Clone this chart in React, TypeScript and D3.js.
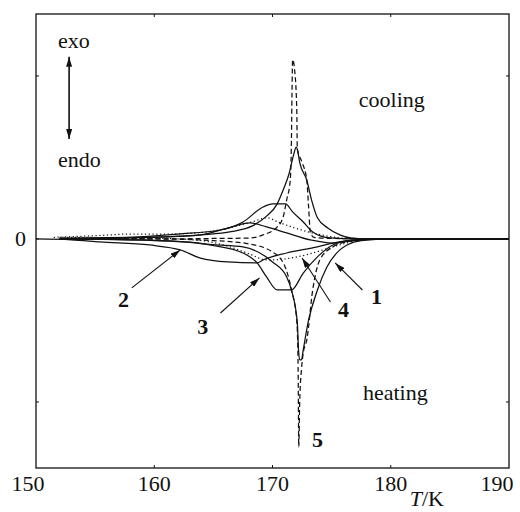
import React from 'react';
import * as d3 from 'd3';

const W = 520;
const H = 512;
const margin = { left: 36, right: 11, top: 14, bottom: 44 };
const font = '"Liberation Serif", "DejaVu Serif", serif';

// axis values
const xTicks = [150, 160, 170, 180, 190];
const yTicks = [-1, 0, 1];
const yTickLabels = ['', '0', ''];

// cooling runs (exo, above zero), [T/K, signal]
const cool1 = [[151.5, 0.01], [155, 0.02], [158, 0.03], [161, 0.03], [164, 0.04], [166.5, 0.07], [168.5, 0.11], [169.5, 0.13], [170.6, 0.1], [171.8, 0.07], [173.2, 0.04], [174.5, 0.02], [176, 0.005], [180, 0], [190, 0]];
const cool2 = [[152, 0], [158, 0.01], [162, 0.03], [165.6, 0.055], [167.5, 0.104], [169.2, 0.196], [170.0, 0.215], [171.1, 0.215], [171.7, 0.166], [172.6, 0.104], [173.4, 0.043], [174.9, 0.006], [177, 0], [190, 0]];
const cool3 = [[152, 0.005], [158, 0.01], [161.5, 0.015], [163.9, 0.025], [166.2, 0.067], [168.1, 0.098], [169.5, 0.074], [171.2, 0.037], [173.2, -0.006], [175.1, -0.025], [176.8, -0.01], [178.5, 0], [190, 0]];
const cool4 = [[152, 0], [160, 0.01], [164, 0.025], [166.5, 0.045], [168.3, 0.08], [169.5, 0.14], [170.4, 0.215], [170.9, 0.3], [171.4, 0.4], [171.8, 0.52], [172.0, 0.564], [172.1, 0.55], [172.3, 0.47], [172.9, 0.36], [173.3, 0.24], [173.8, 0.13], [174.7, 0.066], [175.7, 0.025], [176.6, 0.006], [178, 0], [190, 0]];
const cool5 = [[152, 0], [160, 0], [165, 0.003], [168.1, 0.006], [169.2, 0.025], [170.4, 0.074], [170.9, 0.135], [171.2, 0.24], [171.5, 0.36], [171.6, 0.6], [171.65, 0.9], [171.7, 1.1], [171.85, 1.05], [172.05, 0.8], [172.1, 0.55], [172.5, 0.47], [172.9, 0.36], [173.05, 0.2], [173.2, 0.04], [173.5, 0.01], [175, 0.003], [190, 0]];

// heating runs (endo, below zero)
const heat1 = [[152, 0], [160, -0.01], [163, -0.02], [165, -0.035], [167.5, -0.049], [170.0, -0.141], [171.2, -0.233], [171.6, -0.313], [172.1, -0.515], [172.2, -0.681], [172.3, -0.742], [172.45, -0.742], [172.6, -0.681], [173.0, -0.515], [173.8, -0.313], [174.6, -0.172], [175.7, -0.067], [176.3, -0.037], [177.5, -0.01], [180, 0], [190, 0]];
const heat2 = [[150, 0], [153, -0.005], [155.4, -0.018], [159.6, -0.037], [162.2, -0.067], [163.9, -0.117], [166.2, -0.141], [168.7, -0.147], [169.2, -0.129], [171.2, -0.086], [173.8, -0.049], [175.1, -0.025], [177, -0.005], [180, 0], [190, 0]];
const heat3 = [[152, 0], [158, -0.005], [162, -0.015], [164.7, -0.037], [167.5, -0.086], [168.7, -0.147], [169.5, -0.233], [170.4, -0.313], [171.6, -0.313], [172.6, -0.209], [173.8, -0.11], [175.1, -0.037], [176.5, -0.01], [179, 0], [190, 0]];
const heat4 = [[152, 0.01], [160, 0.005], [164, -0.01], [166, -0.04], [168, -0.09], [169.5, -0.129], [172.1, -0.11], [173.4, -0.086], [175.1, -0.049], [176.5, -0.02], [178, 0], [190, 0]];
const heat5 = [[152, 0], [160, 0], [165, -0.01], [168, -0.03], [170, -0.08], [171, -0.16], [171.6, -0.31], [172.05, -0.5], [172.15, -0.7], [172.18, -0.9], [172.22, -1.276], [172.3, -1.0], [172.45, -0.8], [172.6, -0.7], [172.9, -0.62], [173.4, -0.313], [174.0, -0.129], [175.1, -0.049], [176.5, -0.015], [179, 0], [190, 0]];

// curve numbers with label spot and arrow (from, to)
const labels = ['1', '2', '3', '4', '5'];
const labelAt = [[178.8, -0.356], [157.4, -0.374], [164.1, -0.54], [176.0, -0.436], [173.8, -1.233]];
const arrowFrom = [[177.6, -0.313], [158.1, -0.3], [165.6, -0.454], [174.9, -0.387], null];
const arrowTo = [[175.3, -0.147], [162.2, -0.067], [168.9, -0.239], [172.5, -0.117], null];

const series = [
  { data: cool1, dash: '1.2 2.6' },
  { data: cool2, dash: null },
  { data: cool3, dash: null },
  { data: cool4, dash: null },
  { data: cool5, dash: '5 3' },
  { data: heat1, dash: null },
  { data: heat2, dash: null },
  { data: heat3, dash: null },
  { data: heat4, dash: '1.2 2.6' },
  { data: heat5, dash: '5 3' },
];

export default function App() {
  const x = d3.scaleLinear().domain([150, 190]).range([margin.left, W - margin.right]);
  const y = d3.scaleLinear().domain([-1.405, 1.38]).range([H - margin.bottom, margin.top]);
  const line = d3
    .line<number[]>()
    .x((d) => x(d[0]))
    .y((d) => y(d[1]))
    .curve(d3.curveMonotoneX);

  const x0 = x(150);
  const x1 = x(190);
  const y0 = y.range()[0];
  const y1 = y.range()[1];
  const textStyle = { fontFamily: font, fontSize: 22, fill: '#111' };

  return (
    <svg width={W} height={H} style={{ position: 'absolute', left: 0, top: 0, background: '#fff' }}>
      <defs>
        <marker id="head" viewBox="0 0 10 6" refX="10" refY="3" markerWidth="10" markerHeight="6" markerUnits="userSpaceOnUse" orient="auto-start-reverse">
          <path d="M0,0 L10,3 L0,6 Z" fill="#111" />
        </marker>
      </defs>

      {/* curves */}
      <g fill="none" stroke="#111" strokeWidth={1.25} strokeLinejoin="round">
        {series.map((s, i) => (
          <path key={i} d={line(s.data) || ''} strokeDasharray={s.dash || undefined} />
        ))}
      </g>

      {/* frame and ticks */}
      <rect x={x0} y={y1} width={x1 - x0} height={y0 - y1} fill="none" stroke="#111" strokeWidth={1.3} />
      {xTicks.slice(1, -1).map((t) => (
        <g key={t} stroke="#111" strokeWidth={1}>
          <line x1={x(t)} x2={x(t)} y1={y0} y2={y0 - 3} />
          <line x1={x(t)} x2={x(t)} y1={y1} y2={y1 + 3} />
        </g>
      ))}
      {yTicks.map((t) => (
        <g key={t} stroke="#111" strokeWidth={1}>
          <line x1={x0} x2={x0 + 3} y1={y(t)} y2={y(t)} />
          <line x1={x1} x2={x1 - 3} y1={y(t)} y2={y(t)} />
        </g>
      ))}

      {/* tick labels */}
      {xTicks.map((t, i) => (
        <text key={t} x={x(t)} y={y0 + 23} dx={i === 0 ? -8 : i === xTicks.length - 1 ? -12 : 0} textAnchor="middle" style={textStyle}>
          {t}
        </text>
      ))}
      {yTicks.map((t, i) => (
        <text key={t} x={x0 - 10} y={y(t) + 7} textAnchor="end" style={textStyle}>
          {yTickLabels[i]}
        </text>
      ))}
      <text x={x(181.6)} y={y0 + 38} style={textStyle}>
        <tspan fontStyle="italic">T</tspan>/K
      </text>

      {/* exo / endo */}
      <text x={x(151.85)} y={y(1.172)} style={textStyle}>exo</text>
      <text x={x(151.85)} y={y(0.442)} style={textStyle}>endo</text>
      <line x1={x(152.8)} x2={x(152.8)} y1={y(1.117)} y2={y(0.613)} stroke="#111" strokeWidth={1.6} markerStart="url(#head)" markerEnd="url(#head)" />
      <text x={x(177.3)} y={y(0.81)} style={textStyle}>cooling</text>
      <text x={x(177.65)} y={y(-0.988)} style={textStyle}>heating</text>

      {/* curve numbers */}
      {labels.map((l, i) => (
        <g key={l}>
          {arrowFrom[i] && arrowTo[i] && (
            <line
              x1={x(arrowFrom[i]![0])}
              y1={y(arrowFrom[i]![1])}
              x2={x(arrowTo[i]![0])}
              y2={y(arrowTo[i]![1])}
              stroke="#111"
              strokeWidth={1.1}
              markerEnd="url(#head)"
            />
          )}
          <text x={x(labelAt[i][0])} y={y(labelAt[i][1]) + 7} textAnchor="middle" fontWeight="bold" style={textStyle}>
            {l}
          </text>
        </g>
      ))}
    </svg>
  );
}
